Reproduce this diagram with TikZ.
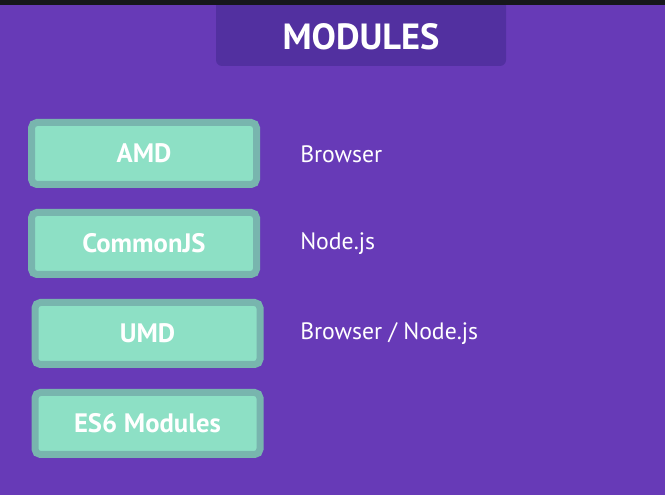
\documentclass[tikz,border=0pt]{standalone}
\usepackage{fontspec}
\setmainfont{PT Sans}
\definecolor{bgpurple}{HTML}{673AB7}
\definecolor{titlepurple}{HTML}{5230A0}
\definecolor{topbar}{HTML}{16171C}
\definecolor{boxfill}{HTML}{8DE0C5}
\definecolor{boxline}{HTML}{78B5AE}
\begin{document}
\begin{tikzpicture}[x=0.75pt,y=-0.75pt,
  modbox/.style={draw=boxline, fill=boxfill, line width=5.25pt, rounded corners=4pt,
    minimum width=168.75pt, minimum height=46.5pt, inner sep=0pt,
    text=white, font=\bfseries\fontsize{20}{24}\selectfont},
  envlabel/.style={anchor=west, inner sep=0pt, text=white, font=\fontsize{17.8}{21}\selectfont}]
\useasboundingbox (0,0) rectangle (665,495);
\fill[bgpurple] (0,0) rectangle (665,495);
\fill[titlepurple, rounded corners=4.5pt] (216,-20) rectangle (506,66);
\fill[topbar] (0,0) rectangle (665,5);
\node[text=white, inner sep=0pt, font=\bfseries\fontsize{27.3}{32}\selectfont] (title) at (361,36.5) {MODULES};
\node[modbox] (amd) at (144,153.5) {AMD};
\node[modbox] (cjs) at (144,243.5) {CommonJS};
\node[modbox] (umd) at (147.5,333.5) {UMD};
\node[modbox] (es6) at (147.5,423.5) {ES6 Modules};
\node[envlabel] (lamd) at (300,154) {Browser};
\node[envlabel] (lcjs) at (300,244) {Node.js};
\node[envlabel] (lumd) at (300,334) {Browser / Node.js};
\end{tikzpicture}
\end{document}
